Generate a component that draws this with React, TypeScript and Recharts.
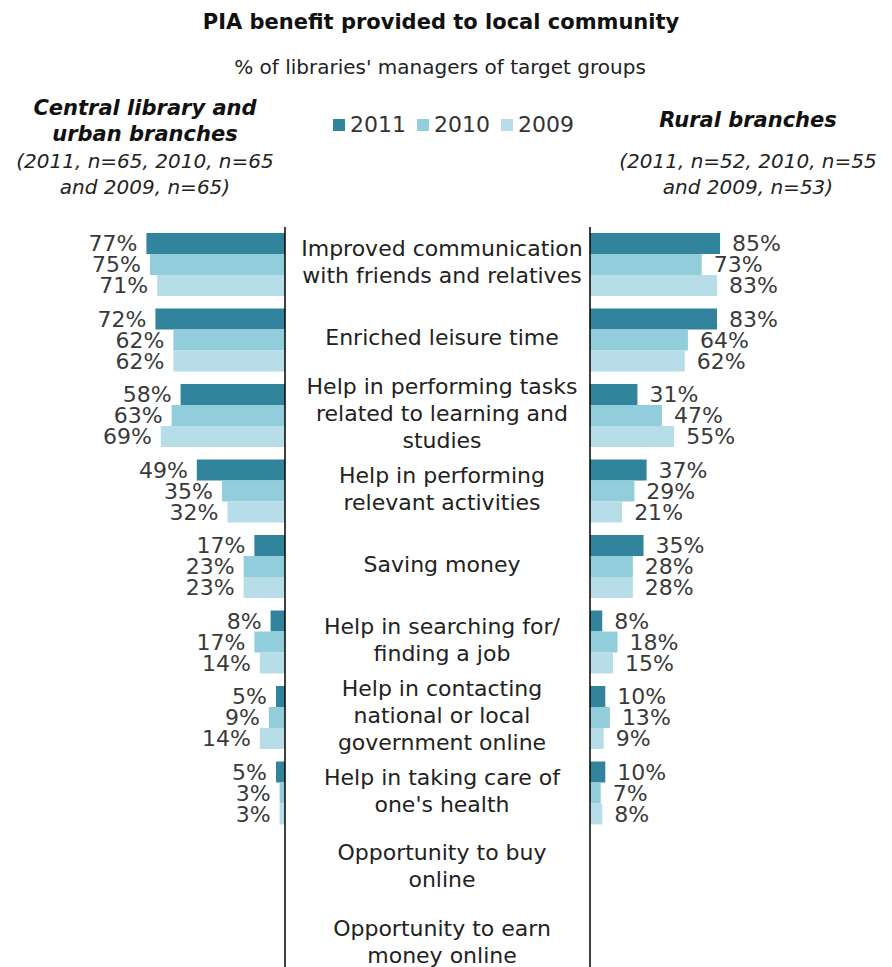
import React from 'react';
import { BarChart, Bar, XAxis, YAxis, Legend, LabelList } from 'recharts';

const categories = [
  'Improved communication\nwith friends and relatives',
  'Enriched leisure time',
  'Help in performing tasks\nrelated to learning and\nstudies',
  'Help in performing\nrelevant activities',
  'Saving money',
  'Help in searching for/\nfinding a job',
  'Help in contacting\nnational or local\ngovernment online',
  "Help in taking care of\none's health",
  'Opportunity to buy\nonline',
  'Opportunity to earn\nmoney online',
];

const years = ['2011', '2010', '2009'];

const central2011 = [77, 72, 58, 49, 17, 8, 5, 5, null, null];
const central2010 = [75, 62, 63, 35, 23, 17, 9, 3, null, null];
const central2009 = [71, 62, 69, 32, 23, 14, 14, 3, null, null];

const rural2011 = [85, 83, 31, 37, 35, 8, 10, 10, null, null];
const rural2010 = [73, 64, 47, 29, 28, 18, 13, 7, null, null];
const rural2009 = [83, 62, 55, 21, 28, 15, 9, 8, null, null];

const colors = ['#31849B', '#92CDDC', '#B7DEE8'];

const centralData = categories.map((name, i) => ({
  name,
  y2011: central2011[i],
  y2010: central2010[i],
  y2009: central2009[i],
}));
const ruralData = categories.map((name, i) => ({
  name,
  y2011: rural2011[i],
  y2010: rural2010[i],
  y2009: rural2009[i],
}));

const FONT = "'DejaVu Sans', Verdana, sans-serif";
const CENTER_X = 442;

const LeftLabel = (props: any) => {
  const { x, y, width, height, value } = props;
  if (value === null || value === undefined) return null;
  const left = Math.min(Number(x), Number(x) + Number(width));
  return (
    <text x={left - 9} y={Number(y) + Number(height) / 2} dy="0.36em" textAnchor="end"
      fontFamily={FONT} fontSize={22} fill="#3a3a3a">{value}%</text>
  );
};

const RightLabel = (props: any) => {
  const { x, y, width, height, value } = props;
  if (value === null || value === undefined) return null;
  const right = Math.max(Number(x), Number(x) + Number(width));
  return (
    <text x={right + 12} y={Number(y) + Number(height) / 2} dy="0.36em" textAnchor="start"
      fontFamily={FONT} fontSize={22} fill="#3a3a3a">{value}%</text>
  );
};

const CenterTick = (props: any) => {
  const { y, payload } = props;
  const lines = String(payload.value).split('\n');
  const lh = 27;
  const y0 = Number(y) - 3 - ((lines.length - 1) * lh) / 2;
  return (
    <text x={CENTER_X} textAnchor="middle" fontFamily={FONT} fontSize={22} fill="#222">
      {lines.map((l, i) => (
        <tspan key={i} x={CENTER_X} y={y0 + i * lh} dy="0.36em">{l}</tspan>
      ))}
    </text>
  );
};

const LegendContent = (props: any) => {
  const payload = [...(props.payload || [])].sort(
    (a: any, b: any) => years.indexOf(String(a.value)) - years.indexOf(String(b.value))
  );
  return (
    <div style={{ display: 'flex', alignItems: 'center', fontFamily: FONT, fontSize: 22, color: '#333', lineHeight: '26px' }}>
      {payload.map((p: any, i: number) => (
        <div key={i} style={{ display: 'flex', alignItems: 'center', marginRight: 11 }}>
          <div style={{ width: 12, height: 12, background: p.color, marginRight: 5 }} />
          <span>{p.value}</span>
        </div>
      ))}
    </div>
  );
};

const textBase: React.CSSProperties = {
  position: 'absolute',
  fontFamily: FONT,
  textAlign: 'center',
  whiteSpace: 'nowrap',
};

export default function App() {
  return (
    <div style={{ position: 'absolute', left: 0, top: 0, width: 892, height: 967, overflow: 'hidden', background: '#fff' }}>
      <div style={{ ...textBase, left: 141, width: 600, top: 9, fontSize: 21, fontWeight: 'bold', lineHeight: '26px', color: '#111' }}>
        PIA benefit provided to local community
      </div>
      <div style={{ ...textBase, left: 140, width: 600, top: 54, fontSize: 20, lineHeight: '26px', color: '#222' }}>
        % of libraries' managers of target groups
      </div>
      <div style={{ ...textBase, left: -5, width: 300, top: 95, fontSize: 21, fontWeight: 'bold', fontStyle: 'italic', lineHeight: '26px', color: '#111' }}>
        Central library and<br />urban branches
      </div>
      <div style={{ ...textBase, left: -5, width: 300, top: 148, fontSize: 20, fontStyle: 'italic', lineHeight: '26px', color: '#222' }}>
        (2011, n=65, 2010, n=65<br />and 2009, n=65)
      </div>
      <div style={{ ...textBase, left: 598, width: 300, top: 107, fontSize: 21, fontWeight: 'bold', fontStyle: 'italic', lineHeight: '26px', color: '#111' }}>
        Rural branches
      </div>
      <div style={{ ...textBase, left: 598, width: 300, top: 148, fontSize: 20, fontStyle: 'italic', lineHeight: '26px', color: '#222' }}>
        (2011, n=52, 2010, n=55<br />and 2009, n=53)
      </div>

      <div style={{ position: 'absolute', left: 0, top: 0 }}>
        <BarChart layout="vertical" width={892} height={990} data={centralData}
          margin={{ top: 227, right: 606, bottom: 8, left: 105 }} barGap={0} barSize={21}>
          <XAxis type="number" domain={[0, 100]} reversed hide />
          <YAxis type="category" dataKey="name" orientation="right" width={1} tick={false} tickLine={false}
            axisLine={{ stroke: '#000', strokeWidth: 1.5 }} />
          <Legend layout="horizontal" verticalAlign="middle" align="center" width={320}
            wrapperStyle={{ top: 112, left: 333, width: 320 }} content={LegendContent} />
          <Bar dataKey="y2011" name={years[0]} fill={colors[0]} isAnimationActive={false}>
            <LabelList dataKey="y2011" content={LeftLabel} />
          </Bar>
          <Bar dataKey="y2010" name={years[1]} fill={colors[1]} isAnimationActive={false}>
            <LabelList dataKey="y2010" content={LeftLabel} />
          </Bar>
          <Bar dataKey="y2009" name={years[2]} fill={colors[2]} isAnimationActive={false}>
            <LabelList dataKey="y2009" content={LeftLabel} />
          </Bar>
        </BarChart>
      </div>

      <div style={{ position: 'absolute', left: 0, top: 0 }}>
        <BarChart layout="vertical" width={892} height={990} data={ruralData}
          margin={{ top: 227, right: 149, bottom: 8, left: 589 }} barGap={0} barSize={21}>
          <XAxis type="number" domain={[0, 100]} hide />
          <YAxis type="category" dataKey="name" orientation="left" width={1} interval={0} tickLine={false}
            tick={CenterTick} axisLine={{ stroke: '#000', strokeWidth: 1.5 }} />
          <Bar dataKey="y2011" name={years[0]} fill={colors[0]} isAnimationActive={false}>
            <LabelList dataKey="y2011" content={RightLabel} />
          </Bar>
          <Bar dataKey="y2010" name={years[1]} fill={colors[1]} isAnimationActive={false}>
            <LabelList dataKey="y2010" content={RightLabel} />
          </Bar>
          <Bar dataKey="y2009" name={years[2]} fill={colors[2]} isAnimationActive={false}>
            <LabelList dataKey="y2009" content={RightLabel} />
          </Bar>
        </BarChart>
      </div>
    </div>
  );
}
